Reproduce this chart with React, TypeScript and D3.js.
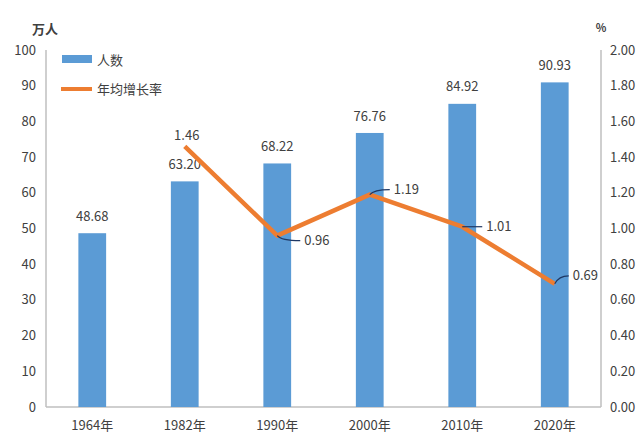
import React from "react";
import * as d3 from "d3";

const years = ["1964年", "1982年", "1990年", "2000年", "2010年", "2020年"];
const population = [48.68, 63.2, 68.22, 76.76, 84.92, 90.93];
const growthRate = [null, 1.46, 0.96, 1.19, 1.01, 0.69] as (number | null)[];
const leftTicks = [0, 10, 20, 30, 40, 50, 60, 70, 80, 90, 100];
const rightTicks = [0, 0.2, 0.4, 0.6, 0.8, 1.0, 1.2, 1.4, 1.6, 1.8, 2.0];

const W = 640;
const H = 444;
const margin = { top: 50, right: 39, bottom: 37, left: 46 };
const BLUE = "#5B9BD5";
const ORANGE = "#ED7D31";
const TEXT = "#404040";
const FONT = "'Noto Sans CJK SC', 'Noto Sans', sans-serif";

// label offsets relative to the point (dx, dy), and whether a leader line is drawn
const rateLabelPos: { dx: number; dy: number; leader: boolean }[] = [
  { dx: 0, dy: 0, leader: false },
  { dx: 2, dy: -11, leader: false },
  { dx: 27, dy: 5, leader: true },
  { dx: 24, dy: -5, leader: true },
  { dx: 24, dy: 0, leader: true },
  { dx: 18, dy: -8, leader: true },
];

export default function App() {
  const x = d3
    .scaleBand<string>()
    .domain(years)
    .range([margin.left, W - margin.right])
    .paddingInner(0.7)
    .paddingOuter(0.35);
  const y = d3.scaleLinear().domain([0, 100]).range([H - margin.bottom, margin.top]);
  const y2 = d3.scaleLinear().domain([0, 2]).range([H - margin.bottom, margin.top]);

  const cx = (i: number) => (x(years[i]) as number) + x.bandwidth() / 2;

  const line = d3
    .line<number | null>()
    .defined((d) => d !== null)
    .x((_, i) => cx(i))
    .y((d) => y2(d as number));

  const bottom = H - margin.bottom;

  return (
    <svg
      width={W}
      height={H}
      style={{ position: "absolute", left: 0, top: 0, background: "#fff" }}
      fontFamily={FONT}
    >
      {/* axes */}
      <line x1={margin.left} x2={margin.left} y1={margin.top} y2={bottom} stroke="#BFBFBF" strokeWidth={1.5} />
      <line x1={W - margin.right} x2={W - margin.right} y1={margin.top} y2={bottom} stroke="#BFBFBF" strokeWidth={1.5} />
      <line x1={margin.left} x2={W - margin.right} y1={bottom} y2={bottom} stroke="#BFBFBF" strokeWidth={1.5} />

      {leftTicks.map((t) => (
        <text key={"l" + t} x={36} y={y(t)} dy="0.35em" textAnchor="end" fontSize={13} fill={TEXT}>
          {t}
        </text>
      ))}
      {rightTicks.map((t) => (
        <text key={"r" + t} x={610} y={y2(t)} dy="0.35em" textAnchor="start" fontSize={13} fill={TEXT}>
          {t.toFixed(2)}
        </text>
      ))}
      <text x={45} y={29} dy="0.35em" textAnchor="middle" fontSize={13} fill={TEXT} fontWeight="bold">
        万人
      </text>
      <text x={601} y={28} dy="0.35em" textAnchor="middle" fontSize={11} fill={TEXT} fontWeight="bold">
        %
      </text>

      {/* bars */}
      {population.map((v, i) => (
        <g key={"b" + i}>
          <rect x={x(years[i])} y={y(v)} width={x.bandwidth()} height={bottom - y(v)} fill={BLUE} />
          <text x={cx(i)} y={y(v) - 17} dy="0.35em" textAnchor="middle" fontSize={13} fill={TEXT}>
            {v.toFixed(2)}
          </text>
        </g>
      ))}

      {years.map((yr, i) => (
        <text key={"x" + i} x={cx(i)} y={425} dy="0.35em" textAnchor="middle" fontSize={13} fill={TEXT}>
          {yr}
        </text>
      ))}

      {/* line */}
      <path d={line(growthRate) || ""} fill="none" stroke={ORANGE} strokeWidth={4.5} strokeLinejoin="round" />

      {growthRate.map((v, i) => {
        if (v === null) return null;
        const px = cx(i);
        const py = y2(v);
        const p = rateLabelPos[i];
        const lx = px + p.dx;
        const ly = py + p.dy;
        return (
          <g key={"r" + i}>
            {p.leader && (
              <path
                d={`M${px},${py} Q${px + 4},${ly} ${lx - 4},${ly}`}
                fill="none"
                stroke="#1F3864"
                strokeWidth={1.2}
              />
            )}
            <text
              x={lx}
              y={ly}
              dy="0.35em"
              textAnchor={p.leader ? "start" : "middle"}
              fontSize={13}
              fill={TEXT}
            >
              {v.toFixed(2)}
            </text>
          </g>
        );
      })}

      {/* legend */}
      <rect x={62} y={55} width={30} height={8} fill={BLUE} />
      <text x={97} y={60} dy="0.35em" fontSize={13} fill={TEXT}>
        人数
      </text>
      <line x1={61} x2={92} y1={89} y2={89} stroke={ORANGE} strokeWidth={4} />
      <text x={97} y={89} dy="0.35em" fontSize={13} fill={TEXT}>
        年均增长率
      </text>
    </svg>
  );
}
